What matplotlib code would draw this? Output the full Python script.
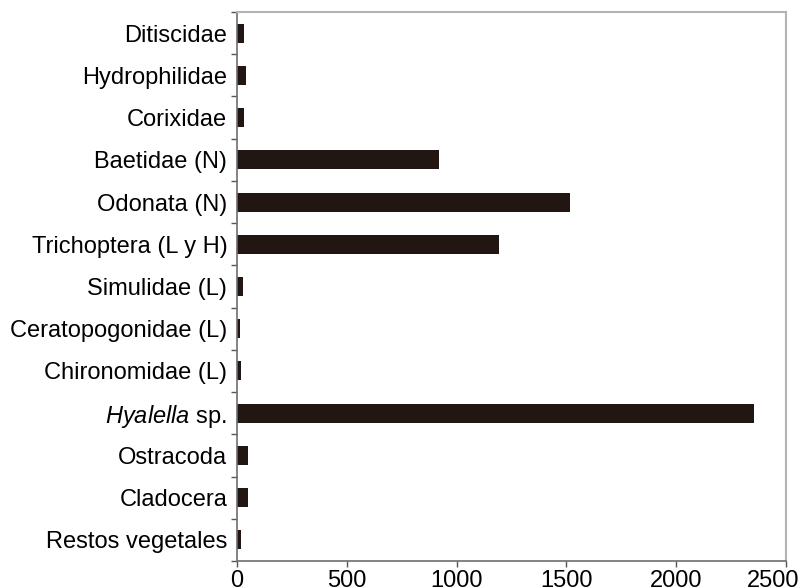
"""Horizontal bar chart of diet items (Restos vegetales ... Ditiscidae)."""

import matplotlib
matplotlib.use("Agg")
import matplotlib.pyplot as plt
import matplotlib.transforms as mtransforms
import numpy as np

plt.rcParams["font.family"] = ["Liberation Sans", "DejaVu Sans"]
plt.rcParams["mathtext.fontset"] = "custom"
plt.rcParams["mathtext.rm"] = "Liberation Sans"
plt.rcParams["mathtext.it"] = "Liberation Sans:italic"

# top to bottom as in the figure
categories = [
    "Ditiscidae",
    "Hydrophilidae",
    "Corixidae",
    "Baetidae (N)",
    "Odonata (N)",
    "Trichoptera (L y H)",
    "Simulidae (L)",
    "Ceratopogonidae (L)",
    "Chironomidae (L)",
    r"$\mathit{Hyalella}$ sp.",
    "Ostracoda",
    "Cladocera",
    "Restos vegetales",
]
values = [33, 41, 33, 920, 1518, 1192, 26, 12, 18, 2355, 48, 48, 18]
x_ticks = [0, 500, 1000, 1500, 2000, 2500]

BAR_COLOR = "#211612"

fig = plt.figure(figsize=(8.0, 5.88), dpi=100)
ax = fig.add_axes([0.29625, 0.0459, 0.68625, 0.9337])

pos = np.arange(len(categories))
ax.barh(pos, values, height=0.45, color=BAR_COLOR, edgecolor="none")

ax.set_xlim(0, 2500)
ax.set_ylim(len(categories) - 0.5, -0.5)

ax.set_xticks(x_ticks)
ax.set_xticklabels([str(t) for t in x_ticks], fontsize=17)
ax.set_yticks(pos)
ax.set_yticklabels(categories, fontsize=17)
ax.tick_params(axis="y", which="major", length=0, pad=7)
ax.set_yticks(np.arange(len(categories) + 1) - 0.5, minor=True)
ax.tick_params(axis="y", which="minor", length=4, width=1, color="#555555")
ax.tick_params(axis="x", length=4, width=1, color="#555555", pad=2.5)

# last label sits a bit left so it stays inside the picture
last = ax.get_xticklabels()[-1]
last.set_transform(last.get_transform()
                   + mtransforms.ScaledTranslation(-0.13, 0, fig.dpi_scale_trans))

for side in ("left", "bottom"):
    ax.spines[side].set_color("#6e6e6e")
    ax.spines[side].set_linewidth(1.2)
for side in ("top", "right"):
    ax.spines[side].set_color("#b4b4b4")
    ax.spines[side].set_linewidth(1.5)

fig.savefig("out.png", dpi=100)
plt.close(fig)
